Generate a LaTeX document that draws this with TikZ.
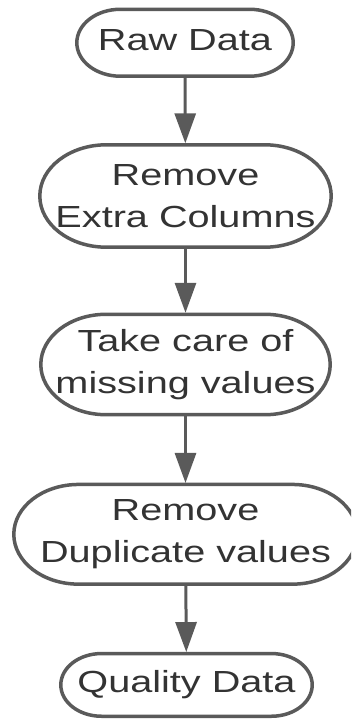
\documentclass[tikz,border=0pt]{standalone}
\usepackage{fontspec}
\newfontfamily\flowfont[FakeStretch=1.3]{Liberation Sans}
\usetikzlibrary{arrows.meta,calc}
\definecolor{flowgray}{HTML}{5A5A5A}
\definecolor{flowtext}{HTML}{333333}

\begin{document}
\begin{tikzpicture}[x=1pt,y=1pt,flowgray]
\clip (0,0) rectangle (351,-719);

    \tikzstyle{stage}=[draw=none, inner sep=0pt, align=center, text=flowtext,
      font=\flowfont\fontsize{30.5}{42}\selectfont];
    \tikzstyle{outline}=[line width=3.5pt];
    \tikzstyle{flow}=[line width=3pt, shorten >=1.5pt, -{Triangle[width=21pt,length=30pt]}];

% stages, top to bottom
\node[stage, minimum width=216pt, minimum height=66.5pt, text depth=6pt] (raw) at (185,-42.75) {Raw Data};
\node[stage, minimum width=291pt, minimum height=102pt] (extra) at (185.5,-196) {Remove\\Extra Columns};
\node[stage, minimum width=289pt, minimum height=100pt] (missing) at (185.5,-364.5) {Take care of\\missing values};
\node[stage, minimum width=343pt, minimum height=99.3pt] (dupl) at (185.5,-534.3) {Remove\\Duplicate values};
\node[stage, minimum width=251pt, minimum height=62.3pt] (quality) at (186.5,-684.9) {Quality Data};

% stretched stadium outlines
\foreach \b in {raw,extra,missing,dupl,quality}
  \draw[outline] let \p1=(\b.north west), \p2=(\b.south east),
      \n1={(\y1-\y2)/2}, \n2={1.3*(\y1-\y2)/2} in
    (\x1+\n2,\y1) -- (\x2-\n2,\y1)
      arc[start angle=90, end angle=-90, x radius=\n2, y radius=\n1]
    -- (\x1+\n2,\y2)
      arc[start angle=270, end angle=90, x radius=\n2, y radius=\n1]
    -- cycle;

% connectors
\draw[flow] (raw) -- (extra);
\draw[flow] (extra) -- (missing);
\draw[flow] (missing) -- (dupl);
\draw[flow] (dupl) -- (quality);
\end{tikzpicture}
\end{document}
